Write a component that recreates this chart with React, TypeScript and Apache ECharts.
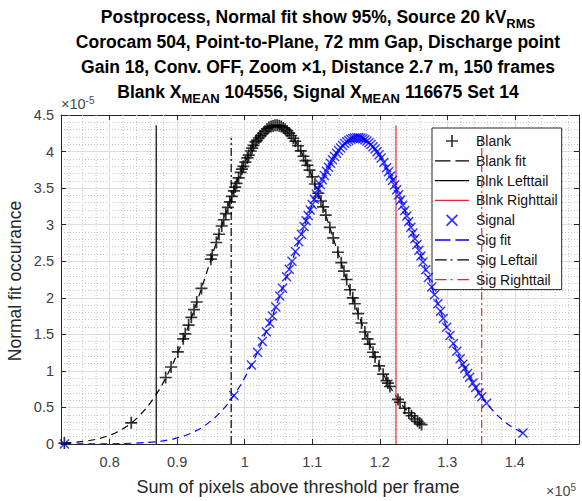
import React, { useEffect, useRef } from 'react';
import * as echarts from 'echarts';

const FONT = 'Liberation Sans, Arial, Helvetica, sans-serif';

// ---- data (x in units of 1e5 pixels, y in units of 1e-5) ----
const blankPoints: [number, number][] = [
  [0.733, 0.013], [0.832, 0.289], [0.883, 0.91], [0.891, 1.053], [0.901, 1.26], [0.909, 1.439],
  [0.912, 1.507], [0.917, 1.627], [0.921, 1.732], [0.925, 1.837], [0.929, 1.942], [0.936, 2.128],
  [0.95, 2.528], [0.952, 2.585], [0.958, 2.756], [0.962, 2.869], [0.966, 2.982], [0.969, 3.067],
  [0.972, 3.151], [0.975, 3.236], [0.978, 3.312], [0.981, 3.388], [0.984, 3.463], [0.986, 3.514],
  [0.988, 3.564], [0.991, 3.64], [0.994, 3.716], [0.996, 3.76], [0.998, 3.798], [1.001, 3.856],
  [1.004, 3.913], [1.006, 3.951], [1.009, 4.008], [1.011, 4.047], [1.013, 4.085], [1.016, 4.133],
  [1.018, 4.154], [1.021, 4.185], [1.024, 4.217], [1.027, 4.248], [1.03, 4.279], [1.033, 4.31],
  [1.036, 4.334], [1.039, 4.342], [1.042, 4.35], [1.045, 4.359], [1.048, 4.359], [1.051, 4.352],
  [1.054, 4.341], [1.057, 4.326], [1.06, 4.306], [1.063, 4.282], [1.066, 4.253], [1.069, 4.22],
  [1.072, 4.182], [1.075, 4.141], [1.079, 4.079], [1.083, 4.01], [1.087, 3.936], [1.09, 3.876],
  [1.093, 3.813], [1.096, 3.746], [1.1, 3.653], [1.104, 3.556], [1.109, 3.43], [1.113, 3.324],
  [1.116, 3.243], [1.12, 3.131], [1.126, 2.962], [1.131, 2.819], [1.138, 2.623], [1.143, 2.48],
  [1.147, 2.364], [1.151, 2.25], [1.156, 2.11], [1.16, 1.999], [1.163, 1.918], [1.168, 1.784],
  [1.173, 1.655], [1.178, 1.532], [1.182, 1.437], [1.185, 1.367], [1.19, 1.255], [1.193, 1.191],
  [1.199, 1.069], [1.205, 0.955], [1.21, 0.867], [1.212, 0.833], [1.215, 0.786], [1.227, 0.61],
  [1.23, 0.571], [1.237, 0.489], [1.243, 0.425], [1.247, 0.386], [1.252, 0.342], [1.256, 0.31],
  [1.259, 0.287], [1.262, 0.266],
];

const blankFit: [number, number][] = [
  [0.733, 0.013], [0.755, 0.028], [0.775, 0.055], [0.795, 0.102], [0.815, 0.182], [0.835, 0.308],
  [0.855, 0.498], [0.875, 0.767], [0.895, 1.125], [0.915, 1.574], [0.935, 2.099], [0.955, 2.671],
  [0.975, 3.236], [0.995, 3.741], [1.015, 4.123], [1.035, 4.331], [1.0456, 4.36], [1.055, 4.337],
  [1.075, 4.141], [1.095, 3.768], [1.115, 3.27], [1.135, 2.705], [1.155, 2.133], [1.175, 1.604],
  [1.195, 1.15], [1.215, 0.786], [1.235, 0.512], [1.255, 0.318], [1.262, 0.266],
];

const signalPoints: [number, number][] = [
  [0.733, 0.0], [0.984, 0.663], [1.01, 1.08], [1.019, 1.256], [1.026, 1.403], [1.032, 1.537],
  [1.037, 1.655], [1.041, 1.75], [1.046, 1.873], [1.052, 2.025], [1.056, 2.129], [1.062, 2.286],
  [1.066, 2.391], [1.07, 2.498], [1.075, 2.632], [1.08, 2.765], [1.084, 2.87], [1.088, 2.975],
  [1.091, 3.052], [1.094, 3.127], [1.097, 3.202], [1.1, 3.276], [1.103, 3.347], [1.106, 3.417],
  [1.109, 3.485], [1.112, 3.55], [1.115, 3.613], [1.118, 3.674], [1.121, 3.732], [1.124, 3.787],
  [1.127, 3.839], [1.13, 3.888], [1.133, 3.934], [1.136, 3.976], [1.139, 4.015], [1.142, 4.05],
  [1.145, 4.082], [1.148, 4.109], [1.151, 4.133], [1.154, 4.152], [1.157, 4.168], [1.16, 4.179],
  [1.163, 4.187], [1.166, 4.19], [1.169, 4.189], [1.172, 4.184], [1.175, 4.175], [1.178, 4.161],
  [1.181, 4.144], [1.184, 4.122], [1.187, 4.097], [1.19, 4.067], [1.193, 4.034], [1.196, 3.997],
  [1.199, 3.957], [1.202, 3.913], [1.206, 3.85], [1.21, 3.78], [1.213, 3.724], [1.216, 3.666],
  [1.219, 3.606], [1.222, 3.543], [1.225, 3.477], [1.228, 3.409], [1.231, 3.339], [1.234, 3.267],
  [1.237, 3.193], [1.24, 3.118], [1.243, 3.042], [1.246, 2.964], [1.249, 2.887], [1.252, 2.808],
  [1.255, 2.728], [1.258, 2.65], [1.261, 2.571], [1.264, 2.49], [1.268, 2.385], [1.272, 2.278],
  [1.277, 2.146], [1.281, 2.043], [1.286, 1.917], [1.29, 1.817], [1.294, 1.717], [1.299, 1.597],
  [1.304, 1.484], [1.309, 1.373], [1.314, 1.268], [1.319, 1.167], [1.323, 1.09], [1.326, 1.036],
  [1.33, 0.965], [1.333, 0.914], [1.338, 0.833], [1.342, 0.772], [1.347, 0.699], [1.351, 0.645],
  [1.358, 0.558], [1.412, 0.152],
];

const signalFit: [number, number][] = [
  [0.733, 0.0], [0.775, 0.001], [0.815, 0.005], [0.855, 0.02], [0.875, 0.038], [0.895, 0.071],
  [0.915, 0.127], [0.935, 0.216], [0.955, 0.353], [0.975, 0.55], [0.995, 0.823], [1.015, 1.175],
  [1.035, 1.608], [1.055, 2.103], [1.075, 2.632], [1.095, 3.153], [1.115, 3.613], [1.135, 3.962],
  [1.155, 4.158], [1.1668, 4.19], [1.175, 4.175], [1.195, 4.01], [1.215, 3.686], [1.235, 3.242],
  [1.255, 2.728], [1.275, 2.196], [1.295, 1.692], [1.315, 1.247], [1.335, 0.88], [1.355, 0.594],
  [1.375, 0.384], [1.395, 0.237], [1.412, 0.152],
];

const blnkLeftTail: [number, number][] = [[0.869, 0], [0.869, 4.36]];
const blnkRightTail: [number, number][] = [[1.224, 0], [1.224, 4.36]];
const sigLeftTail: [number, number][] = [[0.98, 0], [0.98, 4.19]];
const sigRightTail: [number, number][] = [[1.351, 0], [1.351, 4.19]];

const xMin = 0.728;
const xMax = 1.495;
const yMin = 0;
const yMax = 4.5;
const yInterval = 0.5;
const xMinorGrid = [
  0.74, 0.76, 0.78, 0.82, 0.84, 0.86, 0.88, 0.92, 0.94, 0.96, 0.98, 1.02, 1.04, 1.06, 1.08,
  1.12, 1.14, 1.16, 1.18, 1.22, 1.24, 1.26, 1.28, 1.32, 1.34, 1.36, 1.38, 1.42, 1.44, 1.46, 1.48,
];

const titleLines = [
  '{m|Postprocess, Normal fit show 95%, Source 20 kV}{s|RMS}',
  '{m|Corocam 504, Point-to-Plane, 72 mm Gap, Discharge point}',
  '{m|Gain 18, Conv. OFF, Zoom \u00d71, Distance 2.7 m, 150 frames}',
  '{m|Blank X}{s|MEAN}{m| 104556, Signal X}{s|MEAN}{m| 116675 Set 14}',
];

const PLUS = 'path://M4.3,0H5.7V4.3H10V5.7H5.7V10H4.3V5.7H0V4.3H4.3Z';
const CROSS = 'path://M0,1L1,0L5,4L9,0L10,1L6,5L10,9L9,10L5,6L1,10L0,9L4,5Z';
const ICON_SOLID = 'path://M0,0H35V1.3H0Z';
const ICON_DASH = 'path://M0,0H16V1.3H0Z M21,0H35V1.3H21Z';
const ICON_DASHDOT = 'path://M0,0H12V1.3H0Z M16,0H18V1.3H16Z M23,0H35V1.3H23Z';

const legendItems = [
  { name: 'Blank' },
  { name: 'Blank fit', icon: ICON_DASH },
  { name: 'Blnk Lefttail', icon: ICON_SOLID },
  { name: 'Blnk Righttail', icon: ICON_SOLID },
  { name: 'Signal' },
  { name: 'Sig fit', icon: ICON_DASH },
  { name: 'Sig Leftail', icon: ICON_DASHDOT },
  { name: 'Sig Righttail', icon: ICON_DASHDOT },
];

const BLUE = '#0000ff';
const RED = '#e3262b';
const AXIS = '#262626';

function buildOption() {
  const titleRich = {
    m: { fontSize: 17.5, fontWeight: 'bold', fontFamily: FONT, fill: '#000', color: '#000', lineHeight: 25 },
    s: { fontSize: 13, fontWeight: 'bold', fontFamily: FONT, fill: '#000', color: '#000', lineHeight: 14, verticalAlign: 'bottom' },
  };
  const titleY = [17, 42, 67, 92];
  const graphics: any[] = titleLines.map((t, i) => ({
    type: 'text',
    x: 318,
    y: titleY[i],
    silent: true,
    style: {
      text: t,
      rich: titleRich,
      align: 'center', textAlign: 'center',
      verticalAlign: 'middle', textVerticalAlign: 'middle',
      fill: '#000',
    },
  }));
  const expRich = {
    a: { fontSize: 14.5, fontFamily: FONT, fill: '#4a4a4a', color: '#4a4a4a', lineHeight: 17 },
    b: { fontSize: 10, fontFamily: FONT, fill: '#4a4a4a', color: '#4a4a4a', lineHeight: 12, verticalAlign: 'top' },
  };
  graphics.push({
    type: 'text', x: 61, y: 104, silent: true,
    style: { text: '{a|\u00d710}{b|-5}', rich: expRich, align: 'left', textAlign: 'left', verticalAlign: 'middle', textVerticalAlign: 'middle' },
  });
  graphics.push({
    type: 'text', x: 546, y: 491, silent: true,
    style: { text: '{a|\u00d710}{b|5}', rich: expRich, align: 'left', textAlign: 'left', verticalAlign: 'middle', textVerticalAlign: 'middle' },
  });
  graphics.push({
    type: 'text', x: 298, y: 487, silent: true,
    style: {
      text: 'Sum of pixels above threshold per frame',
      fontSize: 18, fontFamily: FONT, fill: AXIS,
      align: 'center', textAlign: 'center', verticalAlign: 'middle', textVerticalAlign: 'middle',
    },
  });
  graphics.push({
    type: 'text', x: 15, y: 281, rotation: Math.PI / 2, silent: true,
    style: {
      text: 'Normal fit occurance',
      fontSize: 17.5, fontFamily: FONT, fill: AXIS,
      align: 'center', textAlign: 'center', verticalAlign: 'middle', textVerticalAlign: 'middle',
    },
  });

  const axisLine = { show: true, onZero: false, lineStyle: { color: AXIS, width: 1 } };
  const axisTick = { show: true, inside: true, length: 5, lineStyle: { color: AXIS, width: 1 } };

  return {
    animation: false,
    backgroundColor: '#fff',
    textStyle: { fontFamily: FONT },
    grid: { left: 61, right: 3, top: 115, bottom: 57, containLabel: false },
    graphic: { elements: graphics },
    legend: {
      orient: 'vertical',
      left: 432,
      top: 128,
      data: legendItems,
      itemWidth: 34,
      itemHeight: 12,
      itemGap: 3.8,
      padding: [5, 4, 2, 3],
      backgroundColor: '#fff',
      borderColor: AXIS,
      borderWidth: 1,
      borderRadius: 0,
      selectedMode: false,
      textStyle: { fontSize: 14, lineHeight: 16, color: '#111', fontFamily: FONT, padding: [0, 0, 0, 2] },
    },
    xAxis: [
      {
        type: 'value', min: xMin, max: xMax, splitNumber: 8, position: 'bottom',
        axisLine, axisTick,
        axisLabel: { show: true, showMinLabel: false, showMaxLabel: false, margin: 10, color: '#404040', fontSize: 14.5, fontFamily: FONT },
        splitLine: { show: true, lineStyle: { color: '#dedede', width: 1 } },
      },
      {
        type: 'value', min: xMin, max: xMax, splitNumber: 8, position: 'top',
        axisLine, axisTick,
        axisLabel: { show: false },
        splitLine: { show: false },
      },
    ],
    yAxis: [
      {
        type: 'value', min: yMin, max: yMax, interval: yInterval, position: 'left',
        axisLine, axisTick,
        axisLabel: { show: true, margin: 7, color: '#404040', fontSize: 14.5, fontFamily: FONT },
        splitLine: { show: true, lineStyle: { color: '#dedede', width: 1 } },
        minorTick: { show: false, splitNumber: 5 },
        minorSplitLine: { show: true, lineStyle: { color: '#c6c6c6', width: 1, type: [1, 2] } },
      },
      {
        type: 'value', min: yMin, max: yMax, interval: yInterval, position: 'right',
        axisLine, axisTick,
        axisLabel: { show: false },
        splitLine: { show: false },
      },
    ],
    series: [
      {
        name: 'minorgrid',
        type: 'custom',
        silent: true,
        z: 1,
        xAxisIndex: 0, yAxisIndex: 0,
        data: xMinorGrid.map((v) => [v, 0]),
        encode: { x: 0, y: 1 },
        renderItem: (params: any, api: any) => {
          const x = api.coord([api.value(0), 0])[0];
          const cs = params.coordSys;
          return {
            type: 'line',
            silent: true,
            shape: { x1: x, y1: cs.y, x2: x, y2: cs.y + cs.height },
            style: { stroke: '#c6c6c6', lineWidth: 1, lineDash: [1, 2] },
          };
        },
      },
      {
        name: 'Blank', type: 'scatter', data: blankPoints, symbol: PLUS, symbolSize: 12,
        itemStyle: { color: '#000' }, z: 5,
      },
      {
        name: 'Blank fit', type: 'line', data: blankFit, symbol: 'none', showSymbol: false, smooth: 0.25,
        lineStyle: { color: '#000', width: 1.2, type: [7, 5] }, itemStyle: { color: '#000' }, z: 4,
      },
      {
        name: 'Blnk Lefttail', type: 'line', data: blnkLeftTail, symbol: 'none', showSymbol: false,
        lineStyle: { color: '#000', width: 1.2 }, itemStyle: { color: '#000' }, z: 4,
      },
      {
        name: 'Blnk Righttail', type: 'line', data: blnkRightTail, symbol: 'none', showSymbol: false,
        lineStyle: { color: RED, width: 1.2 }, itemStyle: { color: RED }, z: 4,
      },
      {
        name: 'Signal', type: 'scatter', data: signalPoints, symbol: CROSS, symbolSize: 10,
        itemStyle: { color: BLUE }, z: 5,
      },
      {
        name: 'Sig fit', type: 'line', data: signalFit, symbol: 'none', showSymbol: false, smooth: 0.25,
        lineStyle: { color: BLUE, width: 1.2, type: [7, 5] }, itemStyle: { color: BLUE }, z: 4,
      },
      {
        name: 'Sig Leftail', type: 'line', data: sigLeftTail, symbol: 'none', showSymbol: false,
        lineStyle: { color: '#000', width: 1.2, type: [8, 3, 2, 3] }, itemStyle: { color: '#000' }, z: 4,
      },
      {
        name: 'Sig Righttail', type: 'line', data: sigRightTail, symbol: 'none', showSymbol: false,
        lineStyle: { color: RED, width: 1.2, type: [8, 3, 2, 3] }, itemStyle: { color: RED }, z: 4,
      },
    ],
  };
}

export default function App() {
  const ref = useRef<HTMLDivElement>(null);
  useEffect(() => {
    if (!ref.current) return;
    const chart = echarts.init(ref.current, undefined, { renderer: 'svg' });
    chart.setOption(buildOption() as any);
    return () => {
      chart.dispose();
    };
  }, []);
  return (
    <div
      ref={ref}
      style={{ position: 'fixed', left: 0, top: 0, width: 582, height: 501, background: '#fff' }}
    />
  );
}
